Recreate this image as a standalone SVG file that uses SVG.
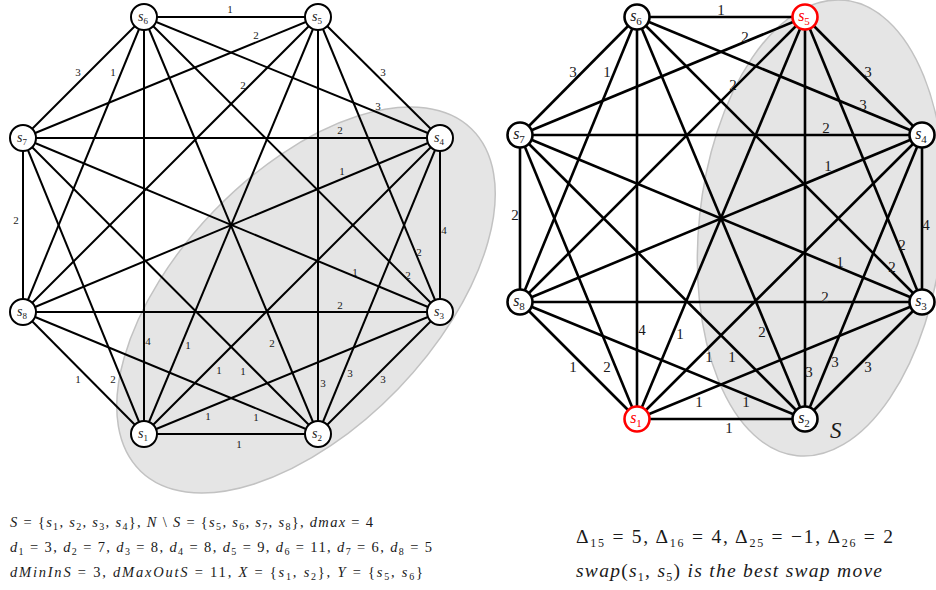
<svg xmlns="http://www.w3.org/2000/svg" width="936" height="590" viewBox="0 0 936 590">
<style>
text{font-family:"Liberation Serif","DejaVu Serif",serif;fill:#1a1a1a}
.set{fill:#e5e5e5;stroke:#c2c2c2;stroke-width:1.5}
.eL line{stroke:#000;stroke-width:2}
.eR line{stroke:#000;stroke-width:2.6}
.nL circle{fill:#fff;stroke:#000;stroke-width:2}
.nR circle{fill:#fff;stroke:#000;stroke-width:2.6}
.red circle{stroke:#f00}
.red text{fill:#f00}
.nl{text-anchor:middle;font-style:italic;font-size:14px}
.nr{text-anchor:middle;font-style:italic;font-size:16px}
.nl tspan{font-style:normal;font-size:9px;baseline-shift:-3px}
.nr tspan{font-style:normal;font-size:11px;baseline-shift:-4px}
.wl{font-size:11px;text-anchor:middle}
.wr{font-size:15px;text-anchor:middle}
.i{font-style:italic}
.s{font-size:10px;baseline-shift:-3px}
.s2{font-size:12px;baseline-shift:-4px}
</style>

<g id="sets">
<ellipse class="set" cx="306" cy="300" rx="238" ry="128" transform="rotate(-46 306 300)"/>
<ellipse class="set" cx="821" cy="228" rx="122" ry="229" transform="rotate(6 821 228)"/>
</g>

<g id="edges-left" class="eL">
<line x1="144" y1="17" x2="318" y2="17"/>
<line x1="144" y1="17" x2="23" y2="138"/>
<line x1="144" y1="17" x2="23" y2="312"/>
<line x1="144" y1="17" x2="144" y2="434"/>
<line x1="144" y1="17" x2="318" y2="434"/>
<line x1="144" y1="17" x2="440" y2="312"/>
<line x1="144" y1="17" x2="440" y2="138"/>
<line x1="318" y1="17" x2="23" y2="138"/>
<line x1="318" y1="17" x2="23" y2="312"/>
<line x1="318" y1="17" x2="144" y2="434"/>
<line x1="318" y1="17" x2="318" y2="434"/>
<line x1="318" y1="17" x2="440" y2="312"/>
<line x1="318" y1="17" x2="440" y2="138"/>
<line x1="23" y1="138" x2="23" y2="312"/>
<line x1="23" y1="138" x2="440" y2="138"/>
<line x1="23" y1="138" x2="440" y2="312"/>
<line x1="23" y1="138" x2="144" y2="434"/>
<line x1="23" y1="138" x2="318" y2="434"/>
<line x1="23" y1="312" x2="440" y2="138"/>
<line x1="23" y1="312" x2="440" y2="312"/>
<line x1="23" y1="312" x2="144" y2="434"/>
<line x1="23" y1="312" x2="318" y2="434"/>
<line x1="440" y1="138" x2="440" y2="312"/>
<line x1="440" y1="138" x2="144" y2="434"/>
<line x1="440" y1="138" x2="318" y2="434"/>
<line x1="440" y1="312" x2="144" y2="434"/>
<line x1="440" y1="312" x2="318" y2="434"/>
<line x1="144" y1="434" x2="318" y2="434"/>
</g>

<g id="weights-left" class="wl">
<text x="230" y="13">1</text>
<text x="256" y="39">2</text>
<text x="78" y="76">3</text>
<text x="113" y="76">1</text>
<text x="243" y="89">2</text>
<text x="383" y="76">3</text>
<text x="378" y="110">3</text>
<text x="340" y="134">2</text>
<text x="342" y="175">1</text>
<text x="16" y="224">2</text>
<text x="444" y="234">4</text>
<text x="419" y="256">2</text>
<text x="408" y="279">2</text>
<text x="355" y="276">1</text>
<text x="340" y="309">2</text>
<text x="148" y="345">4</text>
<text x="188" y="349">1</text>
<text x="219" y="374">1</text>
<text x="208" y="420">1</text>
<text x="78" y="383">1</text>
<text x="113" y="383">2</text>
<text x="239" y="448">1</text>
<text x="272" y="347">2</text>
<text x="243" y="375">1</text>
<text x="256" y="421">1</text>
<text x="323" y="387">3</text>
<text x="350" y="377">3</text>
<text x="383" y="383">3</text>
</g>

<g id="L-s1" class="nL"><circle cx="144" cy="434" r="13"/><text class="nl" x="143" y="438">s<tspan>1</tspan></text></g>
<g id="L-s2" class="nL"><circle cx="318" cy="434" r="13"/><text class="nl" x="317" y="438">s<tspan>2</tspan></text></g>
<g id="L-s3" class="nL"><circle cx="440" cy="312" r="13"/><text class="nl" x="439" y="316">s<tspan>3</tspan></text></g>
<g id="L-s4" class="nL"><circle cx="440" cy="138" r="13"/><text class="nl" x="439" y="142">s<tspan>4</tspan></text></g>
<g id="L-s5" class="nL"><circle cx="318" cy="17" r="13"/><text class="nl" x="317" y="21">s<tspan>5</tspan></text></g>
<g id="L-s6" class="nL"><circle cx="144" cy="17" r="13"/><text class="nl" x="143" y="21">s<tspan>6</tspan></text></g>
<g id="L-s7" class="nL"><circle cx="23" cy="138" r="13"/><text class="nl" x="22" y="142">s<tspan>7</tspan></text></g>
<g id="L-s8" class="nL"><circle cx="23" cy="312" r="13"/><text class="nl" x="22" y="316">s<tspan>8</tspan></text></g>

<g id="edges-right" class="eR">
<line x1="637" y1="17" x2="805" y2="17"/>
<line x1="637" y1="17" x2="520" y2="135"/>
<line x1="637" y1="17" x2="520" y2="302"/>
<line x1="637" y1="17" x2="637" y2="419"/>
<line x1="637" y1="17" x2="805" y2="419"/>
<line x1="637" y1="17" x2="922" y2="302"/>
<line x1="637" y1="17" x2="922" y2="135"/>
<line x1="805" y1="17" x2="520" y2="135"/>
<line x1="805" y1="17" x2="520" y2="302"/>
<line x1="805" y1="17" x2="637" y2="419"/>
<line x1="805" y1="17" x2="805" y2="419"/>
<line x1="805" y1="17" x2="922" y2="302"/>
<line x1="805" y1="17" x2="922" y2="135"/>
<line x1="520" y1="135" x2="520" y2="302"/>
<line x1="520" y1="135" x2="922" y2="135"/>
<line x1="520" y1="135" x2="922" y2="302"/>
<line x1="520" y1="135" x2="637" y2="419"/>
<line x1="520" y1="135" x2="805" y2="419"/>
<line x1="520" y1="302" x2="922" y2="135"/>
<line x1="520" y1="302" x2="922" y2="302"/>
<line x1="520" y1="302" x2="637" y2="419"/>
<line x1="520" y1="302" x2="805" y2="419"/>
<line x1="922" y1="135" x2="922" y2="302"/>
<line x1="922" y1="135" x2="637" y2="419"/>
<line x1="922" y1="135" x2="805" y2="419"/>
<line x1="922" y1="302" x2="637" y2="419"/>
<line x1="922" y1="302" x2="805" y2="419"/>
<line x1="637" y1="419" x2="805" y2="419"/>
</g>

<g id="weights-right" class="wr">
<text x="721" y="15">1</text>
<text x="745" y="42">2</text>
<text x="733" y="90">2</text>
<text x="868" y="77">3</text>
<text x="863" y="110">3</text>
<text x="826" y="133">2</text>
<text x="828" y="171">1</text>
<text x="573" y="77">3</text>
<text x="607" y="77">1</text>
<text x="515" y="220">2</text>
<text x="926" y="230">4</text>
<text x="902" y="250">2</text>
<text x="892" y="272">2</text>
<text x="840" y="267">1</text>
<text x="825" y="302">2</text>
<text x="642" y="335">4</text>
<text x="680" y="339">1</text>
<text x="762" y="337">2</text>
<text x="573" y="372">1</text>
<text x="607" y="372">2</text>
<text x="709" y="362">1</text>
<text x="732" y="362">1</text>
<text x="809" y="377">3</text>
<text x="835" y="367">3</text>
<text x="868" y="372">3</text>
<text x="699" y="407">1</text>
<text x="746" y="407">1</text>
<text x="729" y="433">1</text>
</g>

<g id="R-s1" class="nR red"><circle cx="637" cy="419" r="12.5"/><text class="nr" x="636" y="423">s<tspan>1</tspan></text></g>
<g id="R-s2" class="nR"><circle cx="805" cy="419" r="12.5"/><text class="nr" x="804" y="423">s<tspan>2</tspan></text></g>
<g id="R-s3" class="nR"><circle cx="922" cy="302" r="12.5"/><text class="nr" x="921" y="306">s<tspan>3</tspan></text></g>
<g id="R-s4" class="nR"><circle cx="922" cy="135" r="12.5"/><text class="nr" x="921" y="139">s<tspan>4</tspan></text></g>
<g id="R-s5" class="nR red"><circle cx="805" cy="17" r="12.5"/><text class="nr" x="804" y="21">s<tspan>5</tspan></text></g>
<g id="R-s6" class="nR"><circle cx="637" cy="17" r="12.5"/><text class="nr" x="636" y="21">s<tspan>6</tspan></text></g>
<g id="R-s7" class="nR"><circle cx="520" cy="135" r="12.5"/><text class="nr" x="519" y="139">s<tspan>7</tspan></text></g>
<g id="R-s8" class="nR"><circle cx="520" cy="302" r="12.5"/><text class="nr" x="519" y="306">s<tspan>8</tspan></text></g>

<text x="830" y="438" class="i" font-size="23">S</text>

<g id="caption-left" font-size="14.5">
<text x="10" y="527" textLength="363" lengthAdjust="spacing"><tspan class="i">S</tspan> = {<tspan class="i">s</tspan><tspan class="s">1</tspan>, <tspan class="i">s</tspan><tspan class="s">2</tspan>, <tspan class="i">s</tspan><tspan class="s">3</tspan>, <tspan class="i">s</tspan><tspan class="s">4</tspan>},  <tspan class="i">N</tspan> \ <tspan class="i">S</tspan> = {<tspan class="i">s</tspan><tspan class="s">5</tspan>, <tspan class="i">s</tspan><tspan class="s">6</tspan>, <tspan class="i">s</tspan><tspan class="s">7</tspan>, <tspan class="i">s</tspan><tspan class="s">8</tspan>},  <tspan class="i">dmax</tspan> = 4</text>
<text x="10" y="552" textLength="422" lengthAdjust="spacing"><tspan class="i">d</tspan><tspan class="s">1</tspan> = 3,  <tspan class="i">d</tspan><tspan class="s">2</tspan> = 7,  <tspan class="i">d</tspan><tspan class="s">3</tspan> = 8, <tspan class="i">d</tspan><tspan class="s">4</tspan> = 8,  <tspan class="i">d</tspan><tspan class="s">5</tspan> = 9,  <tspan class="i">d</tspan><tspan class="s">6</tspan> = 11,  <tspan class="i">d</tspan><tspan class="s">7</tspan> = 6,  <tspan class="i">d</tspan><tspan class="s">8</tspan> = 5</text>
<text x="10" y="577" textLength="413" lengthAdjust="spacing"><tspan class="i">dMinInS</tspan> = 3,  <tspan class="i">dMaxOutS</tspan> = 11,  <tspan class="i">X</tspan> = {<tspan class="i">s</tspan><tspan class="s">1</tspan>, <tspan class="i">s</tspan><tspan class="s">2</tspan>},  <tspan class="i">Y</tspan> = {<tspan class="i">s</tspan><tspan class="s">5</tspan>, <tspan class="i">s</tspan><tspan class="s">6</tspan>}</text>
</g>

<g id="caption-right" font-size="19.5">
<text x="576" y="543" textLength="317" lengthAdjust="spacing">Δ<tspan class="s2">15</tspan> = 5,  Δ<tspan class="s2">16</tspan> = 4,  Δ<tspan class="s2">25</tspan> = −1, Δ<tspan class="s2">26</tspan> = 2</text>
<text x="576" y="577" class="i" textLength="306" lengthAdjust="spacing">swap<tspan font-style="normal">(</tspan>s<tspan class="s2" font-style="normal">1</tspan><tspan font-style="normal">, </tspan>s<tspan class="s2" font-style="normal">5</tspan><tspan font-style="normal">)</tspan> is the best swap move</text>
</g>
</svg>
